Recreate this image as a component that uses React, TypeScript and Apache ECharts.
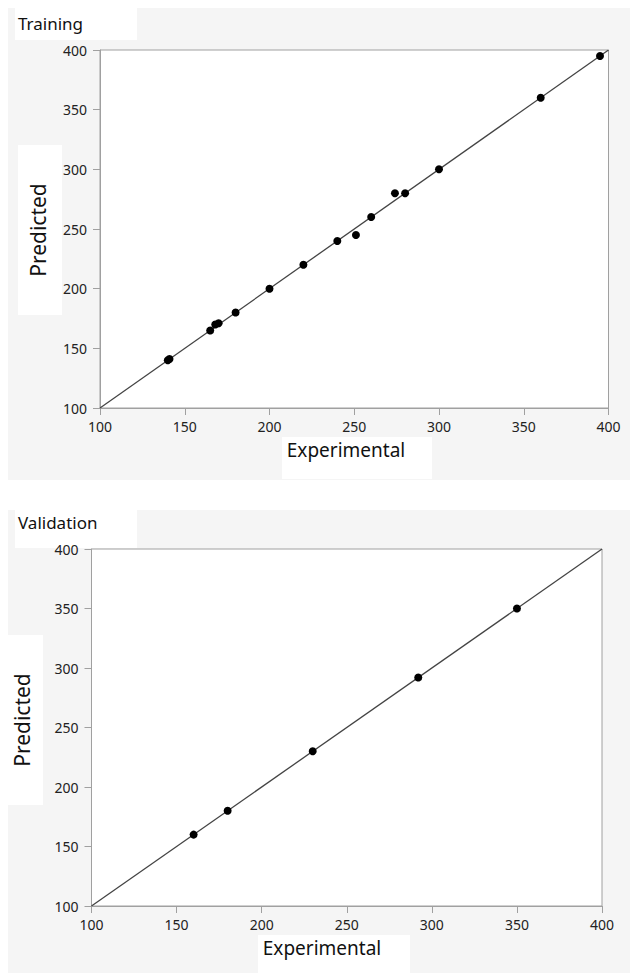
import React, { useEffect, useRef } from "react";
import * as echarts from "echarts";

const axisTicks = [100, 150, 200, 250, 300, 350, 400];

const trainExperimental = [140, 141, 165, 168, 170, 180, 200, 220, 240, 251, 260, 274, 280, 300, 360, 395];
const trainPredicted = [140, 141, 165, 170, 171, 180, 200, 220, 240, 245, 260, 280, 280, 300, 360, 395];

const validExperimental = [160, 180, 230, 292, 350];
const validPredicted = [160, 180, 230, 292, 350];

const identityLine = [100, 400];

const FONT = "'Noto Sans', 'Open Sans', sans-serif";

function makeAxis(gridIndex: number, isY: boolean) {
  return {
    gridIndex,
    type: "value",
    min: axisTicks[0],
    max: axisTicks[axisTicks.length - 1],
    interval: 50,
    splitLine: { show: false },
    axisLine: { show: true, lineStyle: { color: "#a0a0a0", width: 1 } },
    axisTick: { show: true, inside: false, length: 7, lineStyle: { color: "#a0a0a0" } },
    axisLabel: { color: "#222", fontSize: 14, fontFamily: FONT, margin: isY ? 13 : 11 },
  };
}

export default function App() {
  const ref = useRef<HTMLDivElement>(null);
  useEffect(() => {
    if (!ref.current) return;
    const chart = echarts.init(ref.current, null, { renderer: "svg" });
    const train = trainExperimental.map((x, i) => [x, trainPredicted[i]]);
    const valid = validExperimental.map((x, i) => [x, validPredicted[i]]);
    const diag = identityLine.map((v) => [v, v]);
    chart.setOption({
      animation: false,
      backgroundColor: "#ffffff",
      grid: [
        { left: 100, right: 21.5, top: 50, height: 358, show: true, backgroundColor: "#ffffff", borderColor: "#a0a0a0", borderWidth: 1 },
        { left: 91.5, right: 28, top: 549, height: 357, show: true, backgroundColor: "#ffffff", borderColor: "#a0a0a0", borderWidth: 1 },
      ],
      xAxis: [makeAxis(0, false), makeAxis(1, false)],
      yAxis: [makeAxis(0, true), makeAxis(1, true)],
      graphic: [
        { type: "rect", z: -10, shape: { x: 8, y: 8, width: 622, height: 472 }, style: { fill: "#f5f5f5" }, silent: true },
        { type: "rect", z: -10, shape: { x: 8, y: 510, width: 622, height: 463 }, style: { fill: "#f5f5f5" }, silent: true },
        { type: "rect", z: -9, shape: { x: 15, y: 8, width: 122, height: 32 }, style: { fill: "#ffffff" } },
        { type: "text", z: 10, x: 18, y: 23, style: { text: "Training", font: `17px ${FONT}`, fill: "#111", textVerticalAlign: "middle" } },
        { type: "rect", z: -9, shape: { x: 18, y: 145, width: 44, height: 170 }, style: { fill: "#ffffff" } },
        { type: "text", z: 10, x: 38, y: 230, rotation: Math.PI / 2, style: { text: "Predicted", font: `21px ${FONT}`, fill: "#111", textAlign: "center", textVerticalAlign: "middle" } },
        { type: "rect", z: -9, shape: { x: 282, y: 437, width: 150, height: 42 }, style: { fill: "#ffffff" } },
        { type: "text", z: 10, x: 346, y: 450, style: { text: "Experimental", font: `19px ${FONT}`, fill: "#111", textAlign: "center", textVerticalAlign: "middle" } },

        { type: "rect", z: -9, shape: { x: 15, y: 510, width: 122, height: 38 }, style: { fill: "#ffffff" } },
        { type: "text", z: 10, x: 18, y: 522, style: { text: "Validation", font: `17px ${FONT}`, fill: "#111", textVerticalAlign: "middle" } },
        { type: "rect", z: -9, shape: { x: 3, y: 635, width: 40, height: 170 }, style: { fill: "#ffffff" } },
        { type: "text", z: 10, x: 22, y: 720, rotation: Math.PI / 2, style: { text: "Predicted", font: `21px ${FONT}`, fill: "#111", textAlign: "center", textVerticalAlign: "middle" } },
        { type: "rect", z: -9, shape: { x: 258, y: 935, width: 152, height: 38 }, style: { fill: "#ffffff" } },
        { type: "text", z: 10, x: 322, y: 948, style: { text: "Experimental", font: `19px ${FONT}`, fill: "#111", textAlign: "center", textVerticalAlign: "middle" } },
      ],
      series: [
        { type: "line", xAxisIndex: 0, yAxisIndex: 0, data: diag, showSymbol: false, symbol: "none", lineStyle: { color: "#444", width: 1.3 }, silent: true, z: 2 },
        { type: "scatter", xAxisIndex: 0, yAxisIndex: 0, data: train, symbol: "circle", symbolSize: 8, itemStyle: { color: "#000", opacity: 1 }, z: 3 },
        { type: "line", xAxisIndex: 1, yAxisIndex: 1, data: diag, showSymbol: false, symbol: "none", lineStyle: { color: "#444", width: 1.3 }, silent: true, z: 2 },
        { type: "scatter", xAxisIndex: 1, yAxisIndex: 1, data: valid, symbol: "circle", symbolSize: 8, itemStyle: { color: "#000", opacity: 1 }, z: 3 },
      ],
    });
    return () => chart.dispose();
  }, []);
  return <div ref={ref} style={{ position: "absolute", left: 0, top: 0, width: 630, height: 973 }} />;
}
